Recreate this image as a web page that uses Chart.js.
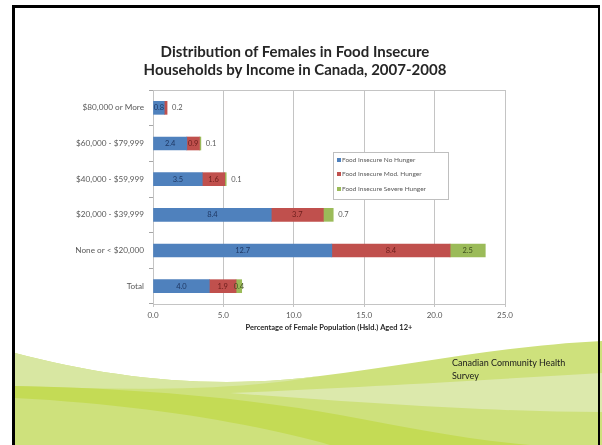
<!DOCTYPE html>
<html lang="en">
<head>
<meta charset="UTF-8">
<title>Distribution of Females in Food Insecure Households by Income in Canada, 2007-2008</title>
<script src="https://cdn.jsdelivr.net/npm/chart.js"></script>
<style>
    html, body { margin: 0; padding: 0; background: #fff; }
    body { width: 602px; height: 445px; position: relative; overflow: hidden; font-family: Lato, "Open Sans", sans-serif; }
    #waves { position: absolute; left: 0; top: 0; }
    #chart { position: absolute; left: 0; top: 0; }
    #frame { position: absolute; left: 12px; top: 5px; width: 583px; height: 470px; border: 3px solid #000; border-right-width: 2px; }
    .title { position: absolute; left: 0; top: 42px; width: 590px; text-align: center; font-size: 15px; font-weight: bold; line-height: 18px; color: #262626; }
    .source { position: absolute; left: 452px; top: 357px; width: 130px; font-size: 9px; line-height: 12.5px; color: #1a1a1a; }
</style>
</head>
<body>
    <!-- slide background: green waves -->
    <svg id="waves" width="602" height="445" viewBox="0 0 602 445">
        <path d="M15,353 C110,378 210,390 320,376 C420,364 500,346 602,341 L602,445 L15,445 Z" fill="#CEE17C"/>
        <path d="M15,353 C110,378 210,390 320,376 C230,392 120,390 15,386 Z" fill="#D8E7A2"/>
        <path d="M230,393 C330,389 470,381 602,373 L602,412 C500,412 380,404 230,393 Z" fill="#DCE9AC"/>
        <path d="M15,386 C130,388 250,398 340,415 C410,428 470,440 530,445 L330,445 C260,425 150,405 15,398 Z" fill="#C4DB55"/>
    </svg>

    <canvas id="chart" width="602" height="445"></canvas>

    <div class="title">Distribution of Females in Food Insecure<br>Households by Income in Canada, 2007-2008</div>
    <div class="source">Canadian Community Health Survey</div>
    <div id="frame"></div>

<script>
// データ（上から順）
const categories = ['$80,000 or More', '$60,000 - $79,999', '$40,000 - $59,999', '$20,000 - $39,999', 'None or < $20,000', 'Total'];
const noHunger = [0.8, 2.4, 3.5, 8.4, 12.7, 4.0];
const modHunger = [0.2, 0.9, 1.6, 3.7, 8.4, 1.9];
const severeHunger = [null, 0.1, 0.1, 0.7, 2.5, 0.4];
const xTicks = [0, 5, 10, 15, 20, 25];
// last segment label drawn outside the bar end
const labelOutside = [true, true, true, true, false, false];

Chart.defaults.font.family = 'Lato, "Open Sans", sans-serif';

// value labels on the bars
const barLabels = {
    id: 'barLabels',
    afterDatasetsDraw(chart, args, opts) {
        const ctx = chart.ctx;
        ctx.save();
        ctx.font = opts.font;
        ctx.textBaseline = 'middle';
        chart.data.datasets.forEach((ds, di) => {
            const meta = chart.getDatasetMeta(di);
            meta.data.forEach((bar, i) => {
                const v = ds.data[i];
                if (v == null || v === 0) return;
                const txt = v.toFixed(1);
                const isLast = chart.data.datasets.slice(di + 1).every(d => !d.data[i]);
                if (isLast && opts.outside[i]) {
                    ctx.fillStyle = opts.outsideColor;
                    ctx.textAlign = 'left';
                    ctx.fillText(txt, bar.x + opts.gap, bar.y);
                } else {
                    ctx.fillStyle = ds.labelColor;
                    ctx.textAlign = 'center';
                    ctx.fillText(txt, (bar.x + bar.base) / 2, bar.y);
                }
            });
        });
        ctx.restore();
    }
};

// grey box round the plot area
const plotFrame = {
    id: 'plotFrame',
    beforeDatasetsDraw(chart, args, opts) {
        const a = chart.chartArea;
        const ctx = chart.ctx;
        ctx.save();
        ctx.strokeStyle = opts.color;
        ctx.lineWidth = 1;
        ctx.strokeRect(a.left + 0.5, a.top + 0.5, a.right - a.left, a.bottom - a.top);
        ctx.restore();
    }
};

// legend box inside the plot (like the Excel one)
const boxLegend = {
    id: 'boxLegend',
    afterDraw(chart, args, opts) {
        const a = chart.chartArea;
        const ctx = chart.ctx;
        const x = a.left + opts.dx, y = a.top + opts.dy;
        ctx.save();
        ctx.fillStyle = '#fff';
        ctx.fillRect(x, y, opts.w, opts.h);
        ctx.strokeStyle = '#BFBFBF';
        ctx.strokeRect(x + 0.5, y + 0.5, opts.w, opts.h);
        ctx.font = opts.font;
        ctx.textBaseline = 'middle';
        ctx.textAlign = 'left';
        chart.data.datasets.forEach((ds, i) => {
            const ry = y + opts.rows[i];
            ctx.fillStyle = ds.backgroundColor;
            ctx.fillRect(x + 4, ry - 2, 4, 4);
            ctx.fillStyle = '#595959';
            ctx.fillText(ds.label, x + 9, ry);
        });
        ctx.restore();
    }
};

new Chart(document.getElementById('chart'), {
    type: 'bar',
    data: {
        labels: categories,
        datasets: [
            { label: 'Food Insecure No Hunger', data: noHunger, backgroundColor: '#4F81BD', labelColor: '#1F3864' },
            { label: 'Food Insecure Mod. Hunger', data: modHunger, backgroundColor: '#C0504D', labelColor: '#6B1D1B' },
            { label: 'Food Insecure Severe Hunger', data: severeHunger, backgroundColor: '#9BBB59', labelColor: '#3F4F1E' }
        ]
    },
    options: {
        indexAxis: 'y',
        responsive: false,
        animation: false,
        barThickness: 13,
        layout: { padding: { left: 0, right: 97, top: 90, bottom: 109 } },
        scales: {
            x: {
                stacked: true,
                min: 0,
                max: 25,
                afterBuildTicks: s => { s.ticks = xTicks.map(v => ({ value: v })); },
                ticks: { callback: v => Number(v).toFixed(1), color: '#595959', font: { size: 8 }, padding: 4 },
                grid: { color: '#C4C4C4', tickLength: 3 },
                border: { color: '#A6A6A6' },
                title: {
                    display: true,
                    text: 'Percentage of Female Population (Hsld.) Aged 12+',
                    color: '#262626',
                    font: { size: 7.5, weight: 'bold' },
                    padding: { top: 4, bottom: 4 }
                },
                afterFit(s) { s.height = 32; }
            },
            y: {
                stacked: true,
                grid: { drawOnChartArea: false, tickLength: 4, color: '#A6A6A6' },
                border: { color: '#A6A6A6' },
                ticks: { color: '#595959', font: { size: 8.2 }, padding: 5 },
                afterFit(s) { s.width = 153; }
            }
        },
        plugins: {
            legend: { display: false },
            tooltip: { enabled: false },
            barLabels: { font: '7.5px Lato, "Open Sans", sans-serif', outside: labelOutside, outsideColor: '#595959', gap: 5 },
            plotFrame: { color: '#C4C4C4' },
            boxLegend: { dx: 180, dy: 62, w: 115, h: 47, rows: [8, 22, 37], font: '6.5px Lato, "Open Sans", sans-serif' }
        }
    },
    plugins: [barLabels, plotFrame, boxLegend]
});
</script>
</body>
</html>
